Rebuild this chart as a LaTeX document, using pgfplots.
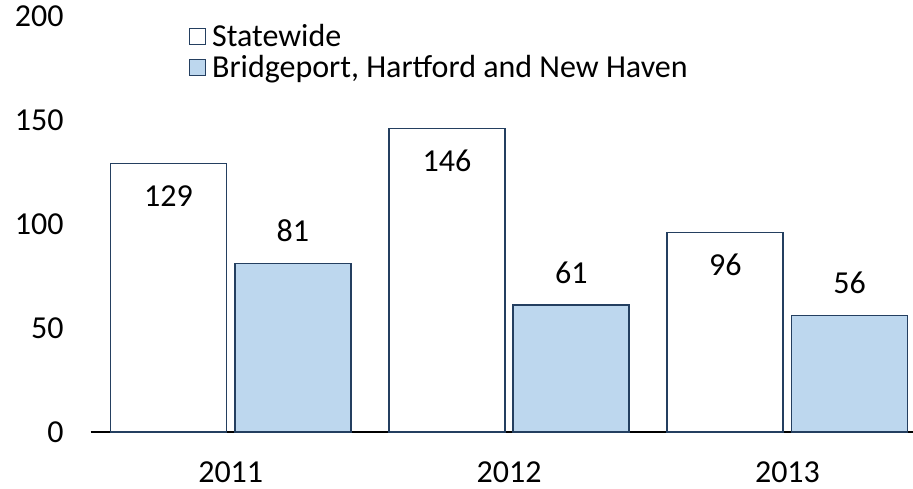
\documentclass[border=0pt]{standalone}
\usepackage{fontspec}
\setmainfont{Carlito}
\usepackage{pgfplots}
\pgfplotsset{compat=1.18}
\definecolor{edge}{RGB}{36,63,96}
\definecolor{paleBlue}{RGB}{189,215,238}
\pgfplotsset{ybar legend/.style={legend image code/.code={%
  \draw[##1] (0pt,-8pt) rectangle (16pt,8pt);}}}
\newcommand{\bigfont}{\fontsize{32}{38}\selectfont}

\begin{document}
\begin{tikzpicture}[x=1pt,y=1pt]
\useasboundingbox (-90.7,-57) rectangle (822.3,432);
\begin{axis}[
  at={(0,0)}, anchor=south west,
  scale only axis, width=822.3pt, height=416pt,
  ybar, bar width=116pt,
  ymin=0, ymax=200, xmin=-0.503, xmax=2.451,
  ytick={0,50,100,150,200},
  xtick={0,1,2}, xticklabels={2011,2012,2013},
  /pgf/number format/assume math mode=true,
  axis x line*=bottom, axis y line*=left,
  x axis line style={-, draw=black, line width=1.5pt},
  y axis line style={draw=none},
  major tick length=0pt,
  yticklabel style={font=\bigfont, inner sep=0pt},
  xticklabel style={font=\bigfont, inner sep=0pt},
  yticklabel shift=27pt, xticklabel shift=30pt,
  legend style={at={(axis description cs:0.1187,0.988)}, anchor=north west,
    draw=none, fill=none, inner sep=0pt, column sep=0pt, row sep=0pt,
    font=\bigfont,
    nodes={inner ysep=0pt, inner xsep=6pt, text height=25.8pt, text depth=5.2pt}},
  legend cell align=left,
  clip=false]
\addplot[draw=edge, fill=white, line width=1.6pt, bar shift=-62.2pt,
  nodes near coords, nodes near coords align={below},
  every node near coord/.append style={font=\bigfont, inner sep=0pt, yshift=-21pt, text=black}]
  coordinates {(0,129) (1,146) (2,96)};
\addplot[draw=edge, fill=paleBlue, line width=1.6pt, bar shift=62.2pt,
  nodes near coords,
  every node near coord/.append style={font=\bigfont, inner sep=0pt, yshift=21pt, text=black}]
  coordinates {(0,81) (1,61) (2,56)};
\legend{Statewide, {Bridgeport, Hartford and New Haven}}
\end{axis}
\end{tikzpicture}
\end{document}
